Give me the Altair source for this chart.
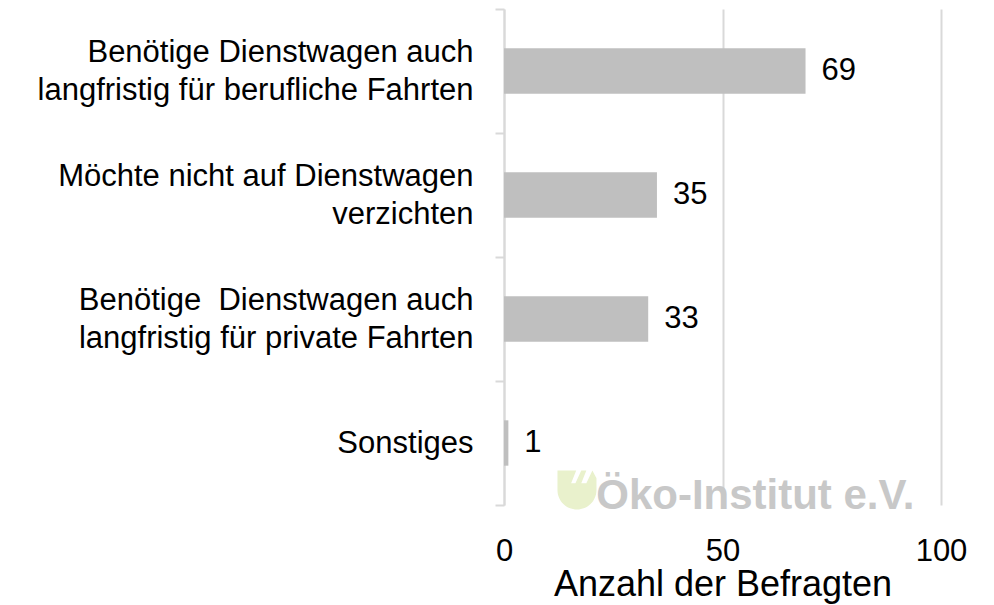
import altair as alt
import pandas as pd

categories = [
    "Benötige Dienstwagen auch|langfristig für berufliche Fahrten",
    "Möchte nicht auf Dienstwagen|verzichten",
    "Benötige\u00a0 Dienstwagen auch|langfristig für private Fahrten",
    "Sonstiges",
]
values = [69, 35, 33, 1]
x_ticks = [0, 50, 100]
axis_title = "Anzahl der Befragten"
watermark = "Öko-Institut e.V."

df = pd.DataFrame({"cat": categories, "n": values})

FONT = "Liberation Sans"
LABEL_SIZE = 31
LINE_H = 38

y_scale = alt.Scale(paddingInner=0, paddingOuter=0)

y_enc = alt.Y(
    "cat:N",
    sort=categories,
    scale=y_scale,
    axis=alt.Axis(
        title=None,
        labelExpr="split(datum.label, '|')",
        labelFontSize=LABEL_SIZE,
        labelFont=FONT,
        labelColor="#000000",
        labelLineHeight=LINE_H,
        labelPadding=22,
        labelLimit=700,
        labelOffset={
            "condition": {"test": "indexof(datum.label, '|') >= 0", "value": -LINE_H / 2},
            "value": 0,
        },
        tickBand="extent",
        tickSize=9,
        tickColor="#d9d9d9",
        tickWidth=2,
        domainColor="#d9d9d9",
        domainWidth=2,
        grid=False,
    ),
)

x_enc = alt.X(
    "n:Q",
    scale=alt.Scale(domain=[0, 100]),
    axis=alt.Axis(
        values=x_ticks,
        title=axis_title,
        titleFont=FONT,
        titleFontSize=36,
        titleFontWeight="normal",
        titleColor="#000000",
        titlePadding=1,
        labelFont=FONT,
        labelFontSize=31,
        labelColor="#000000",
        labelPadding=31,
        labelFlush=False,
        ticks=False,
        domain=False,
        grid=True,
        gridColor="#d9d9d9",
        gridWidth=2,
    ),
)

bars = alt.Chart(df).mark_bar(color="#bfbfbf", height=alt.RelativeBandSize(0.366)).encode(
    x=x_enc, y=y_enc
)

labels = alt.Chart(df).mark_text(
    align="left", baseline="middle", dx=16, fontSize=31, font=FONT, color="#000000"
).encode(x="n:Q", y=alt.Y("cat:N", sort=categories), text="n:Q")

wm_df = pd.DataFrame({"x": [21.1], "cat": ["Sonstiges"], "t": [watermark]})
wm_text = alt.Chart(wm_df).mark_text(
    align="left", baseline="middle", dy=53, fontSize=42, font=FONT,
    fontWeight="bold", color="#c8c8c8",
).encode(x="x:Q", y=alt.Y("cat:N", sort=categories), text="t:N")

LEAF = (
    "M -1 -1 L -0.04 -1 L -0.3 -0.34 L -0.08 -0.34 L 0.22 -1 L 0.48 -1 "
    "L 0.22 -0.34 L 0.48 -0.34 L 0.79 -1 L 1 -0.6 L 1 0 A 1 1 0 0 1 -1 0 Z"
)
leaf_df = pd.DataFrame({"x": [16.7], "cat": ["Sonstiges"]})
leaf = alt.Chart(leaf_df).mark_point(
    shape=LEAF, filled=True, size=1521, color="#e9f1cc", opacity=1, strokeWidth=0, yOffset=47
).encode(x="x:Q", y=alt.Y("cat:N", sort=categories))

chart = (
    alt.layer(bars, labels, leaf, wm_text)
    .properties(width=437, height=496, padding={"left": 29, "top": -15, "right": 5, "bottom": 5})
    .configure_view(stroke=None)
)

chart.save("out.html", embed_options={"renderer": "svg", "actions": False})
